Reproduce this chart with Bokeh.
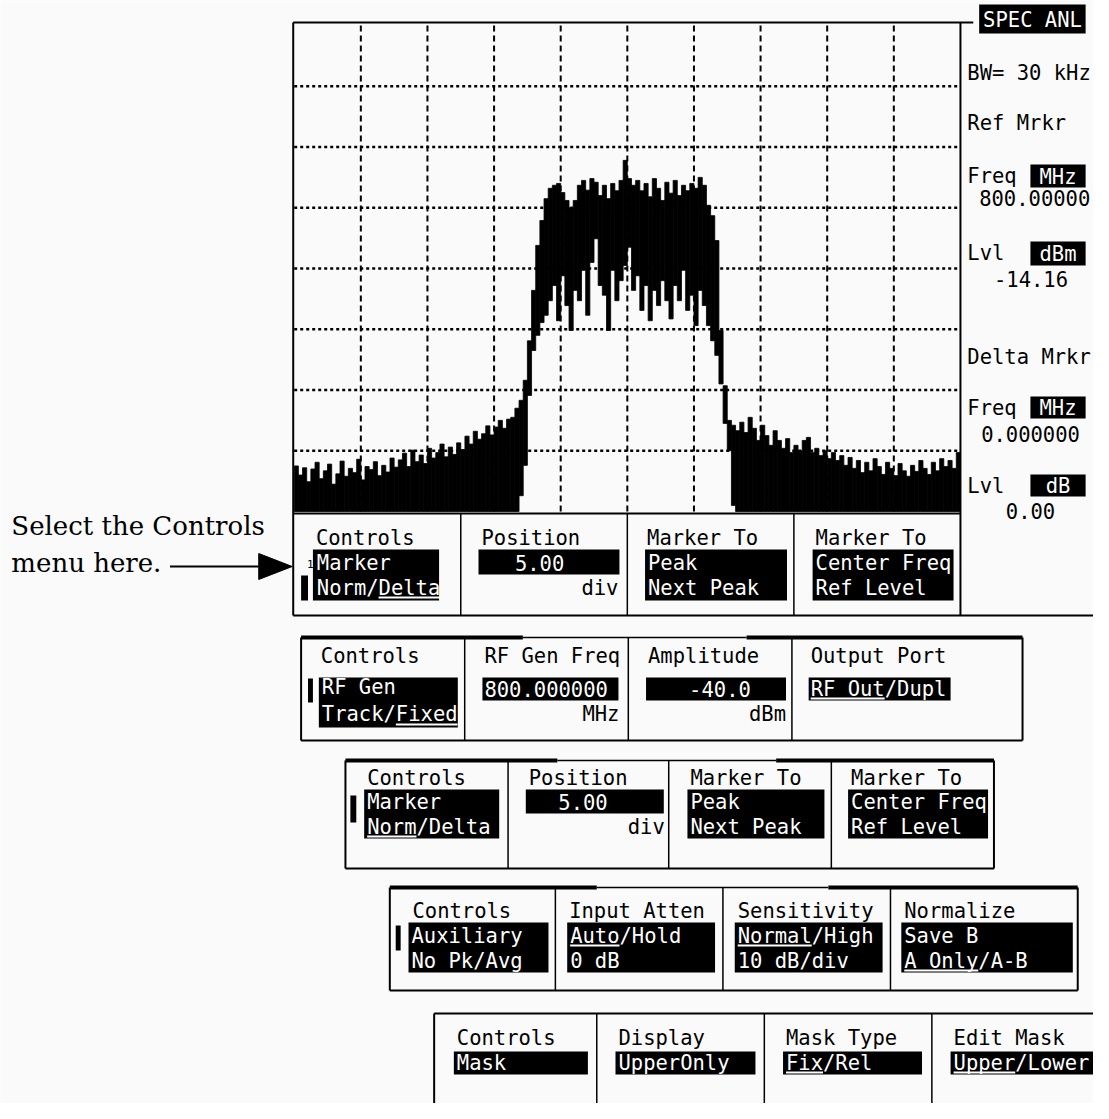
from bokeh.plotting import figure
from bokeh.models import Range1d
from bokeh.core.properties import value
from bokeh.embed import file_html
from bokeh.resources import INLINE

CENTER_MHZ = 800.0
SPAN_MHZ = 5.0
REF_LEVEL_DBM = 10.0
DB_PER_DIV = 10.0
N_XDIV = 10
N_YDIV = 8

# trace maximum per frequency bin (dBm), left to right
trace_hi = [
    -62.5, -64.0, -62.8, -65.1, -63.0, -61.9, -64.6, -63.3, -62.2, -65.5,
    -63.8, -61.7, -64.2, -62.9, -63.6, -61.4, -64.8, -62.6, -63.1, -61.8,
    -64.1, -62.4, -63.5, -61.2, -62.7,
    -61.5, -60.4, -62.6, -59.9, -61.8, -60.7, -62.1, -59.6, -61.2, -60.3,
    -58.9, -61.0, -59.4, -60.6,
    -58.7, -59.8, -57.6, -58.9, -56.8, -58.1, -57.2, -55.9, -57.4, -56.1,
    -55.0, -56.3, -54.8,
    -54.5, -53.0,
    -51.7, -48.4, -41.9, -33.6, -26.2, -22.1, -18.5,
    -16.8, -16.3, -16.0, -17.5, -18.8, -20.0, -18.8, -16.3, -15.5, -17.1,
    -15.2, -15.8, -18.0, -16.3, -18.5, -16.0, -17.2, -15.5, -12.2, -15.2,
    -16.3, -15.5, -17.2, -16.0, -18.2, -15.2, -16.8, -18.8, -15.8, -17.6,
    -15.5, -18.0, -16.3, -17.2, -16.0, -16.8, -15.0, -16.3, -19.6, -21.3,
    -25.4, -40.2, -49.3, -55.0,
    -55.8, -56.7, -55.3, -57.0, -54.5, -56.3, -58.3, -55.8, -57.5, -59.1,
    -56.7, -58.3, -59.6, -58.0, -60.3, -59.1, -60.0, -58.3, -57.8, -60.3,
    -59.6, -60.8, -60.0, -61.3, -60.3, -61.6, -60.8, -62.4, -61.1, -62.9,
    -61.6, -63.6, -61.9, -63.3, -61.3, -62.6, -63.9, -61.9, -62.9, -64.1,
    -62.1, -63.3, -64.2, -62.4, -63.4, -61.6, -62.9, -63.9, -61.9, -63.3,
    -61.3, -62.6, -61.6, -62.9, -60.3,
]
# trace minimum per frequency bin (dBm)
trace_lo = [
    -70.0, -70.0, -70.0, -70.0, -70.0, -70.0, -70.0, -70.0, -70.0, -70.0,
    -70.0, -70.0, -70.0, -70.0, -70.0, -70.0, -70.0, -70.0, -70.0, -70.0,
    -70.0, -70.0, -70.0, -70.0, -70.0, -70.0, -70.0, -70.0, -70.0, -70.0,
    -70.0, -70.0, -70.0, -70.0, -70.0, -70.0, -70.0, -70.0, -70.0, -70.0,
    -70.0, -70.0, -70.0, -70.0, -70.0, -70.0, -70.0, -70.0, -70.0, -70.0,
    -70.0, -70.0, -70.0, -70.0,
    -67.4, -62.4, -50.9, -43.5, -41.0, -38.9, -37.7,
    -35.3, -32.8, -38.6, -31.2, -36.1, -40.2, -33.6, -35.3, -30.3, -37.7,
    -29.0, -25.1, -32.8, -34.4, -40.2, -30.3, -35.3, -32.0, -29.5, -26.5,
    -33.6, -31.2, -36.9, -32.8, -38.6, -33.6, -36.1, -32.0, -35.3, -38.3,
    -32.8, -35.3, -30.3, -36.9, -34.4, -39.4, -33.6, -36.1, -39.4, -41.9,
    -44.3, -49.0, -55.5, -60.0, -69.0,
    -70.0, -70.0, -70.0, -70.0, -70.0, -70.0, -70.0, -70.0, -70.0, -70.0,
    -70.0, -70.0, -70.0, -70.0, -70.0, -70.0, -70.0, -70.0, -70.0, -70.0,
    -70.0, -70.0, -70.0, -70.0, -70.0, -70.0, -70.0, -70.0, -70.0, -70.0,
    -70.0, -70.0, -70.0, -70.0, -70.0, -70.0, -70.0, -70.0, -70.0, -70.0,
    -70.0, -70.0, -70.0, -70.0, -70.0, -70.0, -70.0, -70.0, -70.0, -70.0,
    -70.0, -70.0, -70.0, -70.0,
]

N_BINS = len(trace_hi)
F_START = CENTER_MHZ - SPAN_MHZ / 2
F_STOP = CENTER_MHZ + SPAN_MHZ / 2
BIN_MHZ = SPAN_MHZ / N_BINS
bin_left = [F_START + i * BIN_MHZ for i in range(N_BINS)]
bin_right = [F_START + (i + 1) * BIN_MHZ for i in range(N_BINS)]
DB_TOP = REF_LEVEL_DBM
DB_BOT = REF_LEVEL_DBM - N_YDIV * DB_PER_DIV
freq_grid = [F_START + k * SPAN_MHZ / N_XDIV for k in range(1, N_XDIV)]
level_grid = [DB_TOP - k * DB_PER_DIV for k in range(1, N_YDIV)]

# ---------------- layout ----------------
BG = "#fafafa"
MONO = "DejaVu Sans Mono"
SERIF = "DejaVu Serif"
FS = 20.5

W, H = 1093, 1103          # canvas size in screen px
REF_W = 1109               # layout drawn in reference px, squeezed horizontally to fit
SX = W / REF_W
ADV = 0.602 * FS / SX      # monospace advance in layout units

GX0, GX1 = 298, 974        # graticule left/right (layout px)
GY0, GY1 = 25, 511         # graticule top/bottom (layout px)

p = figure(width=W, height=H, x_range=Range1d(0, REF_W), y_range=Range1d(H, 0),
           output_backend="svg", toolbar_location=None, x_axis_location=None,
           y_axis_location=None, min_border=0, outline_line_color=None,
           background_fill_color=BG, border_fill_color=BG)
p.grid.visible = False

mhz_px = SPAN_MHZ / (GX1 - GX0)
db_px = (DB_TOP - DB_BOT) / (GY1 - GY0)
p.extra_x_ranges = {"freq": Range1d(F_START - GX0 * mhz_px, F_STOP + (REF_W - GX1) * mhz_px)}
p.extra_y_ranges = {"db": Range1d(DB_BOT - (H - GY1) * db_px, DB_TOP + GY0 * db_px)}

# graticule
p.segment(x0=freq_grid, x1=freq_grid, y0=[DB_BOT] * len(freq_grid), y1=[DB_TOP] * len(freq_grid),
          x_range_name="freq", y_range_name="db", line_color="black", line_width=2,
          line_dash="6 4")
p.segment(x0=[F_START] * len(level_grid), x1=[F_STOP] * len(level_grid), y0=level_grid, y1=level_grid,
          x_range_name="freq", y_range_name="db", line_color="black", line_width=2.5,
          line_dash="3 3")

# trace
p.quad(left=bin_left, right=bin_right, top=trace_hi, bottom=trace_lo, x_range_name="freq",
       y_range_name="db", fill_color="black", line_color="black", line_width=0.8)

# ---------- helpers for the instrument screen furniture ----------
rects = []
segs = {}
texts = {}


def R(l, r, t, b):
    rects.append((l, r, t, b))


def L(x0, y0, x1, y1, w=2, c="black"):
    segs.setdefault((w, c), []).append((x0, y0, x1, y1))


def T(x, y, s, c="black", align="left", size=FS, font=MONO):
    texts.setdefault((c, align, size, font), []).append((x, y, s))


def U(x, y, i0, n, c="white"):
    L(x + i0 * ADV, y, x + (i0 + n) * ADV, y, 2, c)


# main screen frame
L(297, 22, 987, 22, 2)
L(297, 22, 297, 615, 2)
L(974, 22, 974, 615, 2)
L(297, 513, 974, 513, 2)
L(297, 615, 1109, 615, 2)
for xd in (467, 636, 805):
    L(xd, 513, xd, 615, 1.5)

# right side read-outs
R(993, 1101, 4, 33)
T(997, 19, "SPEC ANL", "white")
T(981, 72, "BW= 30 kHz")
T(981, 122, "Ref Mrkr")
T(981, 175, "Freq"); R(1045, 1101, 164, 187); T(1073, 176, "MHz", "white", "center")
T(993, 197, "800.00000")
T(981, 252, "Lvl"); R(1045, 1101, 241, 265); T(1073, 253, "dBm", "white", "center")
T(1008, 278, "-14.16")
T(981, 356, "Delta Mrkr")
T(981, 407, "Freq"); R(1045, 1101, 396, 418); T(1073, 407, "MHz", "white", "center")
T(995, 433, "0.000000")
T(981, 485, "Lvl"); R(1045, 1101, 474, 496); T(1073, 485, "dB", "white", "center")
T(1020, 510, "0.00")

# main menu inside the screen
T(320, 537, "Controls")
T(311, 563, "1", size=11)
R(305, 312, 575, 600)
R(317, 445, 549, 600); T(321, 562, "Marker", "white"); T(321, 587, "Norm/Delta", "white"); U(321, 597, 5, 5)
T(488, 537, "Position"); R(485, 628, 549, 574); T(547, 562, "5.00", "white", "center"); T(627, 587, "div", "black", "right")
T(656, 537, "Marker To"); R(654, 798, 549, 600); T(657, 562, "Peak", "white"); T(657, 587, "Next Peak", "white")
T(827, 537, "Marker To"); R(824, 967, 549, 600); T(827, 562, "Center Freq", "white"); T(827, 587, "Ref Level", "white")

# callout
T(11, 525, "Select the Controls", size=26, font=SERIF)
T(11, 562, "menu here.", size=26, font=SERIF)
L(172, 566, 262, 566, 2)
p.patch(x=[262, 262, 296], y=[553, 579, 566], fill_color="black", line_color="black")

# panel: RF Gen
L(305, 637, 530, 637, 4); L(530, 637, 757, 637, 1.5); L(757, 637, 1037, 637, 4)
L(305, 637, 305, 740, 2); L(1037, 637, 1037, 740, 2); L(305, 740, 1037, 740, 2)
for xd in (471, 637, 803):
    L(xd, 637, xd, 740, 1.5)
T(325, 655, "Controls"); R(312, 317, 678, 702)
R(323, 464, 677, 727); T(326, 686, "RF Gen", "white"); T(326, 713, "Track/Fixed", "white"); U(326, 724, 6, 5)
T(491, 655, "RF Gen Freq"); R(489, 627, 677, 700); T(491, 688, "800.000000", "white"); T(628, 713, "MHz", "black", "right")
T(657, 655, "Amplitude"); R(655, 797, 677, 700); T(730, 688, "-40.0", "white", "center"); T(797, 713, "dBm", "black", "right")
T(822, 655, "Output Port"); R(820, 964, 677, 700); T(822, 688, "RF Out/Dupl", "white"); U(822, 698, 0, 6)

# panel: Marker
L(350, 760, 565, 760, 4); L(565, 760, 787, 760, 1.5); L(787, 760, 1008, 760, 4)
L(350, 760, 350, 868, 2); L(1008, 760, 1008, 868, 2); L(350, 868, 1008, 868, 2)
for xd in (515, 678, 843):
    L(xd, 760, xd, 868, 1.5)
T(372, 777, "Controls"); R(355, 361, 795, 822)
R(369, 506, 789, 838); T(372, 801, "Marker", "white"); T(372, 826, "Norm/Delta", "white"); U(372, 836, 0, 4)
T(536, 777, "Position"); R(533, 673, 789, 813); T(591, 801, "5.00", "white", "center"); T(674, 826, "div", "black", "right")
T(700, 777, "Marker To"); R(697, 836, 789, 838); T(700, 801, "Peak", "white"); T(700, 826, "Next Peak", "white")
T(863, 777, "Marker To"); R(860, 1002, 789, 838); T(863, 801, "Center Freq", "white"); T(863, 826, "Ref Level", "white")

# panel: Auxiliary
L(395, 887, 605, 887, 4); L(605, 887, 840, 887, 1.5); L(840, 887, 1093, 887, 4)
L(395, 887, 395, 990, 2); L(1093, 887, 1093, 990, 2); L(395, 990, 1093, 990, 2)
for xd in (563, 733, 903):
    L(xd, 887, xd, 990, 1.5)
T(418, 910, "Controls"); R(401, 406, 925, 950)
R(414, 556, 922, 972); T(417, 935, "Auxiliary", "white"); T(417, 960, "No Pk/Avg", "white")
T(577, 910, "Input Atten"); R(575, 725, 922, 972); T(578, 935, "Auto/Hold", "white"); T(578, 960, "0 dB", "white"); U(578, 945, 0, 4)
T(748, 910, "Sensitivity"); R(745, 895, 922, 972); T(748, 935, "Normal/High", "white"); T(748, 960, "10 dB/div", "white"); U(748, 945, 0, 6)
T(917, 910, "Normalize"); R(914, 1088, 922, 972); T(917, 935, "Save B", "white"); T(917, 960, "A Only/A-B", "white"); U(917, 970, 0, 6)

# panel: Mask
L(440, 1013, 1109, 1013, 2); L(440, 1013, 440, 1119, 2)
for xd in (605, 775, 945):
    L(xd, 1013, xd, 1119, 1.5)
T(463, 1037, "Controls"); R(460, 596, 1051, 1074); T(463, 1062, "Mask", "white")
T(627, 1037, "Display"); R(624, 766, 1051, 1074); T(627, 1062, "UpperOnly", "white")
T(797, 1037, "Mask Type"); R(794, 935, 1051, 1074); T(797, 1062, "Fix/Rel", "white"); U(797, 1072, 0, 3)
T(967, 1037, "Edit Mask"); R(964, 1109, 1051, 1074); T(967, 1062, "Upper/Lower", "white"); U(967, 1072, 0, 5)

# draw furniture
p.quad(left=[r[0] for r in rects], right=[r[1] for r in rects], top=[r[2] for r in rects],
       bottom=[r[3] for r in rects], fill_color="black", line_color=None)
for (w, c), lst in segs.items():
    p.segment(x0=[s[0] for s in lst], y0=[s[1] for s in lst], x1=[s[2] for s in lst],
              y1=[s[3] for s in lst], line_width=w, line_color=c)
for (c, align, size, font), lst in texts.items():
    p.text(x=[t[0] for t in lst], y=[t[1] for t in lst], text=[t[2] for t in lst],
           text_color=c, text_align=align, text_baseline="middle",
           text_font=value(font), text_font_size=f"{size}px")

open("out.html", "w").write(file_html(p, INLINE))
